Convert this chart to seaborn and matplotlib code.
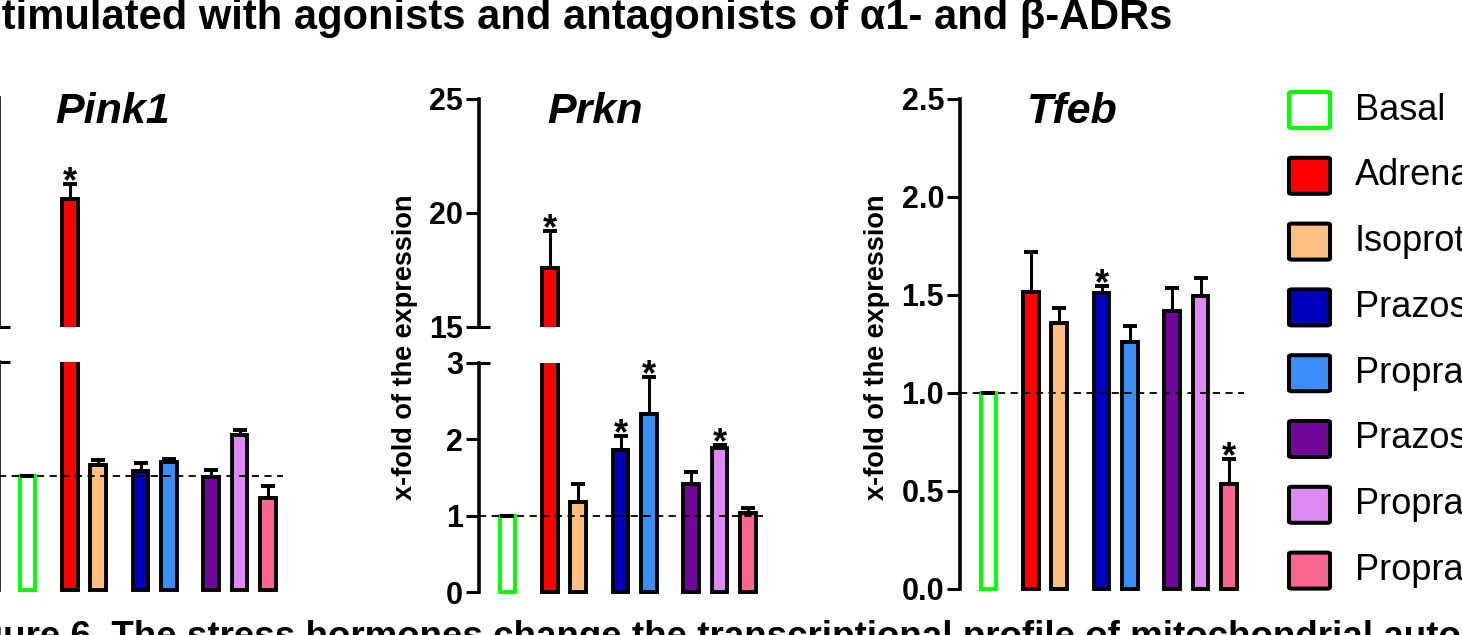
import pandas as pd
import matplotlib
matplotlib.use("Agg")
import matplotlib.pyplot as plt
import seaborn as sns
from matplotlib import font_manager
from matplotlib.patches import FancyBboxPatch

sns.set_style("ticks")

# === Fonts ===
_names = {f.name for f in font_manager.fontManager.ttflist}
NARROW = "Liberation Sans Narrow" if "Liberation Sans Narrow" in _names else "Liberation Sans"
WIDE = "Liberation Sans"
plt.rcParams["font.family"] = [NARROW, "DejaVu Sans"]
plt.rcParams.update({"text.color": "black", "axes.edgecolor": "black",
                     "ytick.color": "black", "xtick.color": "black",
                     "axes.labelcolor": "black"})

# === Data ===
groups = ["Basal", "Adrenaline", "Isoproterenol", "Prazosin", "Propranolol",
          "Prazosin + Adrenaline", "Propranolol + Adrenaline", "Propranolol + Isoproterenol"]
positions = [0, 1.5, 2.5, 4, 5, 6.5, 7.5, 8.5]
colors = ["#FFFFFF", "#FF0000", "#FFBF80", "#0000BF", "#3A8EF6", "#71079A", "#DE8AF2", "#F9668F"]

pink1_mean = [1.00, 10.6, 1.10, 1.04, 1.12, 0.99, 1.36, 0.81]
pink1_sem = [0.00, 0.65, 0.04, 0.07, 0.03, 0.06, 0.04, 0.10]
pink1_sig = [False, True, False, False, False, False, False, False]

prkn_mean = [1.00, 17.6, 1.18, 1.86, 2.33, 1.42, 1.89, 1.03]
prkn_sem = [0.00, 1.60, 0.24, 0.19, 0.49, 0.15, 0.04, 0.07]
prkn_sig = [False, True, False, True, True, False, True, False]

tfeb_mean = [1.00, 1.515, 1.357, 1.51, 1.26, 1.42, 1.495, 0.536]
tfeb_sem = [0.00, 0.205, 0.075, 0.035, 0.08, 0.115, 0.092, 0.127]
tfeb_sig = [False, False, False, True, False, False, False, True]

W, H = 1462, 635
UNIT = 28.3  # px per x unit
XLIM = (-1.0, 9.1)

fig = plt.figure(figsize=(W / 100, H / 100), dpi=100)


def add_axes_px(x_spine, y_lo_px, y_hi_px, v_lo, v_hi, ylim):
    scale = (y_lo_px - y_hi_px) / (v_hi - v_lo)
    top_px = y_hi_px - (ylim[1] - v_hi) * scale
    bot_px = y_lo_px + (v_lo - ylim[0]) * scale
    width_px = (XLIM[1] - XLIM[0]) * UNIT
    ax = fig.add_axes([x_spine / W, 1 - bot_px / H, width_px / W, (bot_px - top_px) / H])
    return ax


def draw_panel(ax, mean, sem, sig, ylim, bounds, ticks, labels, cap=None, dashed=True):
    df = pd.DataFrame({"pos": positions, "value": mean, "group": groups})
    sns.barplot(data=df, x="pos", y="value", hue="group", hue_order=groups,
                palette=dict(zip(groups, colors)), native_scale=True, dodge=False,
                width=0.55, errorbar=None, legend=False, saturation=1, ax=ax,
                edgecolor="black", linewidth=2.8, zorder=2)
    for p in ax.patches:
        cx = p.get_x() + p.get_width() / 2
        if abs(cx - positions[0]) < 0.1:
            p.set_edgecolor("#00FF00")
    ax.errorbar(positions, mean, yerr=[[0] * len(sem), sem], fmt="none",
                ecolor="black", elinewidth=2.2, capsize=4.7, capthick=2.8, zorder=3)
    for x, m, s, flag in zip(positions, mean, sem, sig):
        if flag:
            ax.annotate("*", xy=(x, m + s), xytext=(0, -6), textcoords="offset points",
                        ha="center", va="baseline", fontsize=26, fontweight="bold",
                        family=WIDE)
    if dashed:
        ax.hlines(1, XLIM[0], 9.05, colors="black", linestyles=(0, (4, 3)),
                  linewidth=1.3, zorder=5)
    ax.set_xlim(*XLIM)
    ax.set_ylim(*ylim)
    ax.set_xticks([])
    ax.set_xlabel("")
    ax.set_ylabel("")
    for s in ["top", "right", "bottom"]:
        ax.spines[s].set_visible(False)
    ax.spines["left"].set_linewidth(2.6)
    ax.spines["left"].set_bounds(*bounds)
    ax.set_yticks(ticks, labels, fontsize=22, fontweight="bold", family=NARROW)
    ax.tick_params(axis="y", direction="out", length=9.5, width=2.2, pad=2)
    ax.patch.set_alpha(0)
    if cap is not None:
        ax.plot([XLIM[0], XLIM[0] + 11 / UNIT], [cap, cap], color="black",
                lw=2.2, clip_on=False, solid_capstyle="butt")


# === Pink1 (broken axis) ===
ax = add_axes_px(-1, 327, 98, 5, 15, (5, 15))
draw_panel(ax, pink1_mean, pink1_sem, pink1_sig, (5, 15), (5, 15), [5, 10, 15],
           ["5", "10", "15"], cap=5, dashed=False)
ax = add_axes_px(-1, 590, 362, 0, 2, (-0.025, 2))
draw_panel(ax, pink1_mean, pink1_sem, pink1_sig, (-0.025, 2), (0, 2), [0, 1, 2],
           ["0", "1", "2"], cap=2)

# === Prkn (broken axis) ===
ax = add_axes_px(479, 327, 99, 15, 25, (15, 25))
draw_panel(ax, prkn_mean, prkn_sem, prkn_sig, (15, 25), (15, 25), [15, 20, 25],
           ["15", "20", "25"], cap=15, dashed=False)
ax = add_axes_px(479, 592, 363, 0, 3, (-0.035, 3))
draw_panel(ax, prkn_mean, prkn_sem, prkn_sig, (-0.035, 3), (0, 3), [0, 1, 2, 3],
           ["0", "1", "2", "3"], cap=3)

# === Tfeb ===
ax = add_axes_px(960, 589, 99, 0, 2.5, (-0.018, 2.5))
draw_panel(ax, tfeb_mean, tfeb_sem, tfeb_sig, (-0.018, 2.5), (0, 2.5),
           [0, 0.5, 1.0, 1.5, 2.0, 2.5], ["0.0", "0.5", "1.0", "1.5", "2.0", "2.5"])

# === Panel titles and y labels ===
for x_px, name in [(113, "Pink1"), (595, "Prkn"), (1072, "Tfeb")]:
    fig.text(x_px / W, 1 - 123 / H, name, ha="center", va="baseline", fontsize=31,
             fontweight="bold", style="italic", family=NARROW)
for x_px in [-80, 405, 877]:
    fig.text(x_px / W, 1 - 347 / H, "x-fold of the expression", rotation=90,
             ha="center", va="center", fontsize=19.5, fontweight="bold", family=WIDE)

# === Legend ===
for i, (g, c) in enumerate(zip(groups, colors)):
    yc = 110 + i * 65.8
    edge = "#00FF00" if i == 0 else "black"
    box = FancyBboxPatch((1289 / W, 1 - (yc + 18) / H), 41 / W, 36 / H,
                         boxstyle="round,pad=0,rounding_size=0.002",
                         transform=fig.transFigure, facecolor=c, edgecolor=edge,
                         linewidth=2.9)
    fig.add_artist(box)
    fig.text(1355 / W, 1 - yc / H, g, ha="left", va="center", fontsize=26, family=NARROW)

# === Figure title and caption (cropped) ===
fig.text(1172 / W, 1 - 29 / H, "Stimulated with agonists and antagonists of \u03b11- and \u03b2-ADRs",
         ha="right", va="baseline", fontsize=30, fontweight="bold", family=NARROW)
fig.text(-52 / W, 1 - 620 / H,
         "Figure 6. The stress hormones change the transcriptional profile of mitochondrial autophagy genes",
         ha="left", va="top", fontsize=26.5, fontweight="bold", family=WIDE)

fig.savefig("out.png", dpi=100)
